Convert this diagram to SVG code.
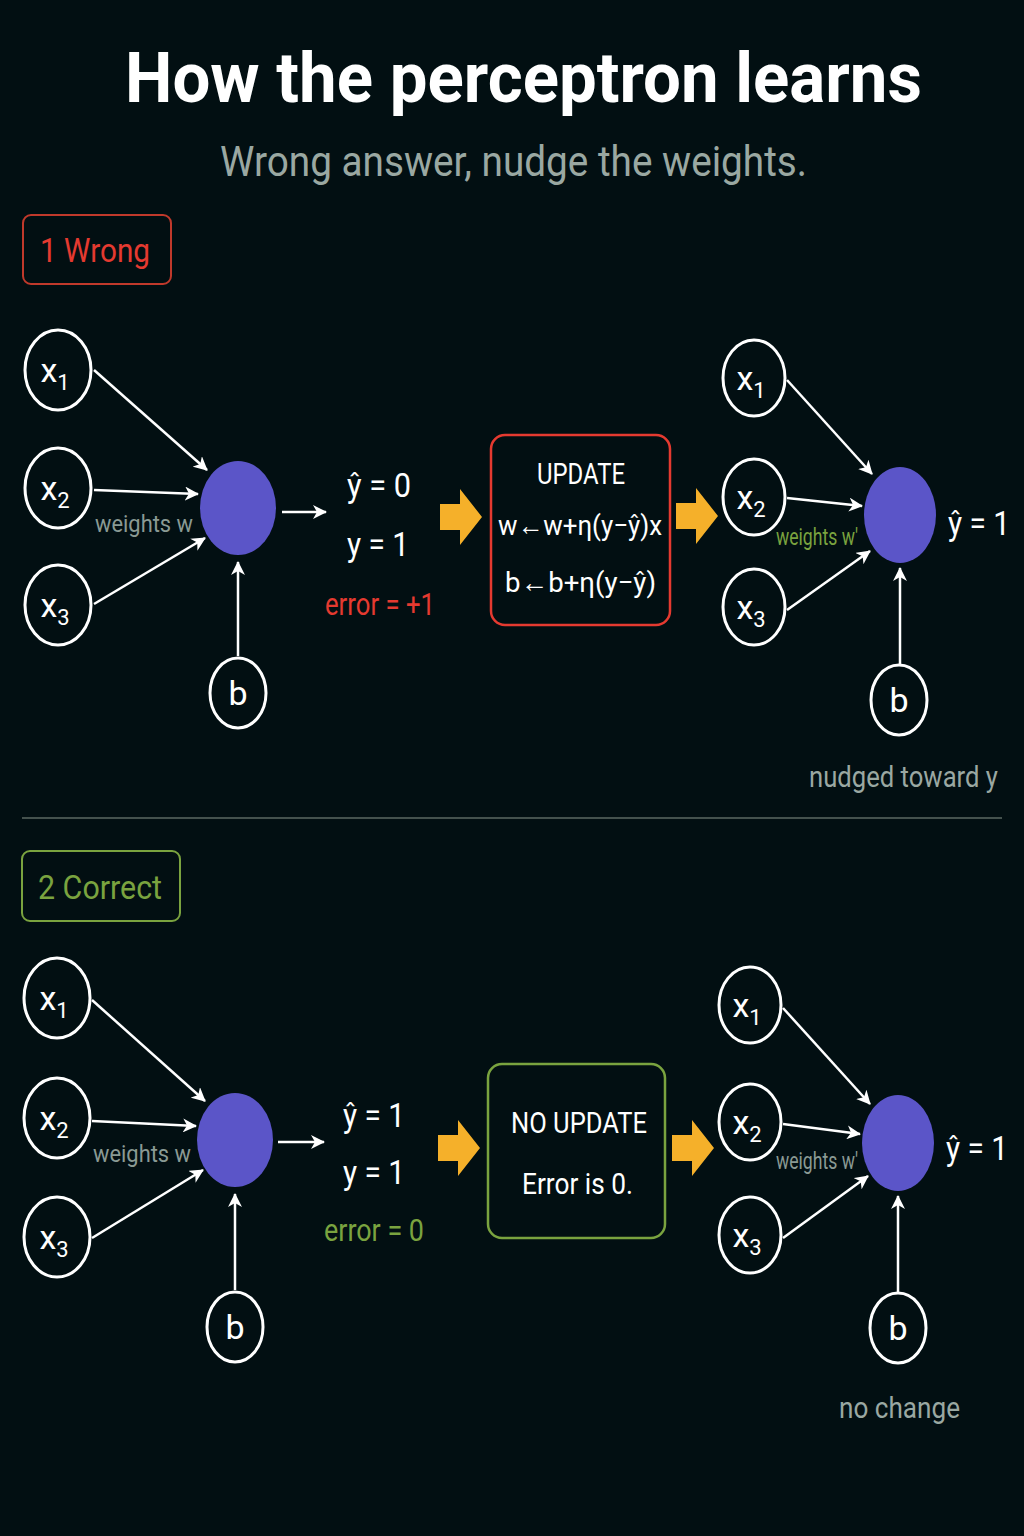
<svg xmlns="http://www.w3.org/2000/svg" width="1024" height="1536" viewBox="0 0 1024 1536">
<defs>
<marker id="ahb" markerWidth="14" markerHeight="14" refX="13" refY="7" orient="auto" markerUnits="userSpaceOnUse" viewBox="0 0 14 14"><path d="M0,0 L14,7 L0,14 L4,7 Z" fill="#fff"/></marker>
<path id="oa" d="M0,-13 H20 V-28 L42,0 L20,28 V13 H0 Z" fill="#f5b02a"/>
</defs>
<style>
text{font-family:Roboto,"Liberation Sans",sans-serif;fill:#fff}
.c{fill:none;stroke:#fff;stroke-width:3}
.n{fill:#5b55c8}
.t{font-size:34px;text-anchor:middle}
.s{font-size:22px}
.e{font-size:32px}
.w{font-size:24px;fill:#8a9a94}
.g{fill:#7aa33f}
.r{fill:#e53a30}
.l{stroke:#fff;stroke-width:2.5;fill:none}
</style>
<rect width="1024" height="1536" fill="#020f12"/>
<text x="125" y="102" font-size="70" font-weight="bold" textLength="797" lengthAdjust="spacingAndGlyphs">How the perceptron learns</text>
<text x="220" y="176" font-size="42" style="fill:#9aa8a2" textLength="587" lengthAdjust="spacingAndGlyphs">Wrong answer, nudge the weights.</text>

<g id="label1"><rect x="23" y="215" width="148" height="69" rx="8" fill="none" stroke="#c0392b" stroke-width="2"/><text x="40" y="262" font-size="34" class="r" textLength="110" lengthAdjust="spacingAndGlyphs">1 Wrong</text></g>
<line x1="22" y1="818" x2="1002" y2="818" stroke="#44514d" stroke-width="2"/>
<g id="label2"><rect x="22" y="851" width="158" height="70" rx="8" fill="none" stroke="#7aa33f" stroke-width="2"/><text x="38" y="899" font-size="34" class="g" textLength="124" lengthAdjust="spacingAndGlyphs">2 Correct</text></g>

<!-- Section 1 left -->
<g id="s1x1"><ellipse cx="58" cy="370" rx="33" ry="40" class="c"/><text x="55" y="382" class="t">x<tspan class="s" dy="8">1</tspan></text></g>
<g id="s1x2"><ellipse cx="58" cy="488" rx="33" ry="40" class="c"/><text x="55" y="500" class="t">x<tspan class="s" dy="8">2</tspan></text></g>
<g id="s1x3"><ellipse cx="58" cy="605" rx="33" ry="40" class="c"/><text x="55" y="617" class="t">x<tspan class="s" dy="8">3</tspan></text></g>
<g id="s1n"><ellipse cx="238" cy="508" rx="38" ry="47" class="n"/></g>
<g id="s1b"><ellipse cx="238" cy="693" rx="28" ry="35" class="c"/><text x="238" y="705" class="t">b</text></g>
<text x="95" y="532" class="w" textLength="98" lengthAdjust="spacingAndGlyphs">weights w</text>
<text x="347" y="497" font-size="34" textLength="64" lengthAdjust="spacingAndGlyphs">ŷ = 0</text>
<text x="347" y="556" font-size="34" textLength="62" lengthAdjust="spacingAndGlyphs">y = 1</text>
<text x="325" y="615" class="e r" textLength="110" lengthAdjust="spacingAndGlyphs">error = +1</text>
<use href="#oa" x="440" y="517"/>
<g id="s1u"><rect x="491" y="435" width="179" height="190" rx="14" fill="none" stroke="#e53a30" stroke-width="2.5"/>
<text x="537" y="484" font-size="30" textLength="88" lengthAdjust="spacingAndGlyphs">UPDATE</text>
<text x="498" y="535" font-size="28" textLength="164" lengthAdjust="spacingAndGlyphs">w←w+η(y−ŷ)x</text>
<text x="505" y="592" font-size="28" textLength="151" lengthAdjust="spacingAndGlyphs">b←b+η(y−ŷ)</text></g>
<use href="#oa" x="676" y="516"/>
<!-- Section 1 right -->
<g id="s1rx1"><ellipse cx="754" cy="378" rx="31" ry="38" class="c"/><text x="751" y="390" class="t">x<tspan class="s" dy="8">1</tspan></text></g>
<g id="s1rx2"><ellipse cx="754" cy="497" rx="31" ry="38" class="c"/><text x="751" y="509" class="t">x<tspan class="s" dy="8">2</tspan></text></g>
<g id="s1rx3"><ellipse cx="754" cy="607" rx="31" ry="38" class="c"/><text x="751" y="619" class="t">x<tspan class="s" dy="8">3</tspan></text></g>
<g id="s1rn"><ellipse cx="900" cy="515" rx="36" ry="48" class="n"/></g>
<g id="s1rb"><ellipse cx="899" cy="700" rx="28" ry="35" class="c"/><text x="899" y="712" class="t">b</text></g>
<text x="776" y="545" class="w g" font-size="22" textLength="82" lengthAdjust="spacingAndGlyphs">weights w'</text>
<text x="948" y="535" font-size="34" textLength="62" lengthAdjust="spacingAndGlyphs">ŷ = 1</text>
<text x="809" y="787" font-size="30" style="fill:#9aa8a2" textLength="189" lengthAdjust="spacingAndGlyphs">nudged toward y</text>

<!-- Section 2 left -->
<g id="s2x1"><ellipse cx="57" cy="998" rx="33" ry="40" class="c"/><text x="54" y="1010" class="t">x<tspan class="s" dy="8">1</tspan></text></g>
<g id="s2x2"><ellipse cx="57" cy="1118" rx="33" ry="40" class="c"/><text x="54" y="1130" class="t">x<tspan class="s" dy="8">2</tspan></text></g>
<g id="s2x3"><ellipse cx="57" cy="1237" rx="33" ry="40" class="c"/><text x="54" y="1249" class="t">x<tspan class="s" dy="8">3</tspan></text></g>
<g id="s2n"><ellipse cx="235" cy="1140" rx="38" ry="47" class="n"/></g>
<g id="s2b"><ellipse cx="235" cy="1327" rx="28" ry="35" class="c"/><text x="235" y="1339" class="t">b</text></g>
<text x="93" y="1162" class="w" textLength="98" lengthAdjust="spacingAndGlyphs">weights w</text>
<text x="343" y="1127" font-size="34" textLength="62" lengthAdjust="spacingAndGlyphs">ŷ = 1</text>
<text x="343" y="1184" font-size="34" textLength="62" lengthAdjust="spacingAndGlyphs">y = 1</text>
<text x="324" y="1241" class="e g" textLength="100" lengthAdjust="spacingAndGlyphs">error = 0</text>
<use href="#oa" x="438" y="1148"/>
<g id="s2u"><rect x="488" y="1064" width="177" height="174" rx="14" fill="none" stroke="#7aa33f" stroke-width="2.5"/>
<text x="511" y="1133" font-size="30" textLength="136" lengthAdjust="spacingAndGlyphs">NO UPDATE</text>
<text x="522" y="1194" font-size="30" textLength="111" lengthAdjust="spacingAndGlyphs">Error is 0.</text></g>
<use href="#oa" x="672" y="1148"/>
<!-- Section 2 right -->
<g id="s2rx1"><ellipse cx="750" cy="1005" rx="31" ry="38" class="c"/><text x="747" y="1017" class="t">x<tspan class="s" dy="8">1</tspan></text></g>
<g id="s2rx2"><ellipse cx="750" cy="1122" rx="31" ry="38" class="c"/><text x="747" y="1134" class="t">x<tspan class="s" dy="8">2</tspan></text></g>
<g id="s2rx3"><ellipse cx="750" cy="1235" rx="31" ry="38" class="c"/><text x="747" y="1247" class="t">x<tspan class="s" dy="8">3</tspan></text></g>
<g id="s2rn"><ellipse cx="898" cy="1143" rx="36" ry="48" class="n"/></g>
<g id="s2rb"><ellipse cx="898" cy="1328" rx="28" ry="35" class="c"/><text x="898" y="1340" class="t">b</text></g>
<text x="776" y="1169" class="w" font-size="22" textLength="82" lengthAdjust="spacingAndGlyphs">weights w'</text>
<text x="946" y="1160" font-size="34" textLength="62" lengthAdjust="spacingAndGlyphs">ŷ = 1</text>
<text x="839" y="1418" font-size="30" style="fill:#9aa8a2" textLength="121" lengthAdjust="spacingAndGlyphs">no change</text>

<g id="connectors">
<line x1="94" y1="370" x2="207" y2="470" class="l" marker-end="url(#ahb)"/>
<line x1="94" y1="490" x2="198" y2="494" class="l" marker-end="url(#ahb)"/>
<line x1="94" y1="604" x2="205" y2="538" class="l" marker-end="url(#ahb)"/>
<line x1="238" y1="656" x2="238" y2="562" class="l" marker-end="url(#ahb)"/>
<line x1="282" y1="512" x2="326" y2="512" class="l" marker-end="url(#ahb)"/>
<line x1="787" y1="380" x2="872" y2="474" class="l" marker-end="url(#ahb)"/>
<line x1="787" y1="498" x2="862" y2="506" class="l" marker-end="url(#ahb)"/>
<line x1="787" y1="610" x2="870" y2="551" class="l" marker-end="url(#ahb)"/>
<line x1="900" y1="664" x2="900" y2="568" class="l" marker-end="url(#ahb)"/>
<line x1="92" y1="1000" x2="205" y2="1101" class="l" marker-end="url(#ahb)"/>
<line x1="92" y1="1121" x2="196" y2="1126" class="l" marker-end="url(#ahb)"/>
<line x1="92" y1="1238" x2="203" y2="1170" class="l" marker-end="url(#ahb)"/>
<line x1="235" y1="1290" x2="235" y2="1194" class="l" marker-end="url(#ahb)"/>
<line x1="278" y1="1142" x2="324" y2="1142" class="l" marker-end="url(#ahb)"/>
<line x1="783" y1="1008" x2="870" y2="1104" class="l" marker-end="url(#ahb)"/>
<line x1="783" y1="1124" x2="860" y2="1134" class="l" marker-end="url(#ahb)"/>
<line x1="783" y1="1238" x2="868" y2="1176" class="l" marker-end="url(#ahb)"/>
<line x1="898" y1="1292" x2="898" y2="1196" class="l" marker-end="url(#ahb)"/>
</g>
</svg>
